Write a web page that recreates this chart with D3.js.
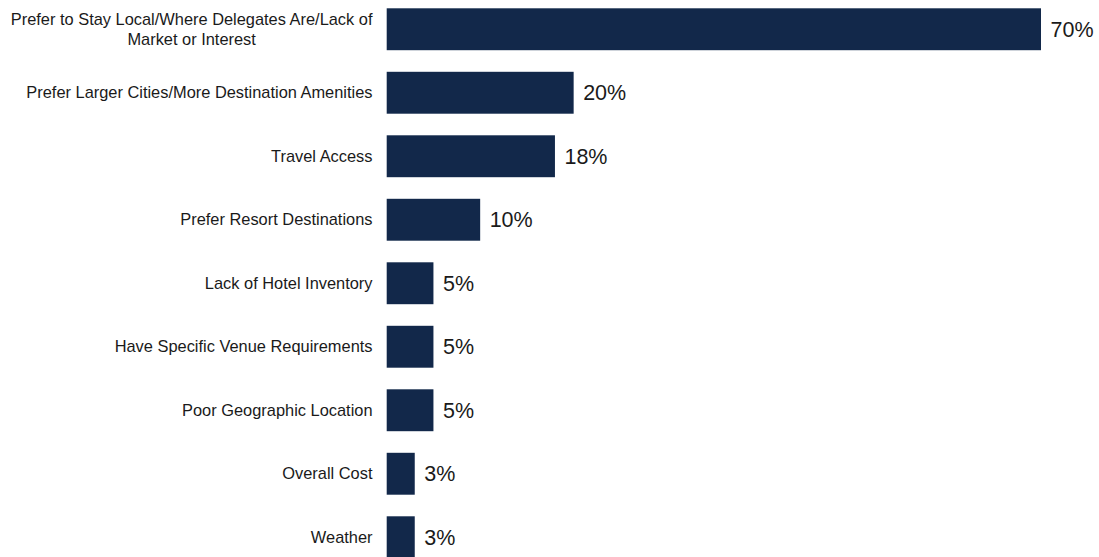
<!DOCTYPE html>
<html>
<head>
<meta charset="utf-8">
<script src="https://cdn.jsdelivr.net/npm/d3@7/dist/d3.min.js"></script>
<style>
  html, body { margin: 0; padding: 0; background: #ffffff; }
  svg { display: block; }
  text { font-family: "Liberation Sans", Arial, Helvetica, sans-serif; fill: #1a1a1a; }
</style>
</head>
<body>
<svg id="chart" width="1099" height="557"></svg>
<script>
// Reasons given for not choosing a destination (share of respondents)
const categories = [
  "Prefer to Stay Local/Where Delegates Are/Lack of|Market or Interest",
  "Prefer Larger Cities/More Destination Amenities",
  "Travel Access",
  "Prefer Resort Destinations",
  "Lack of Hotel Inventory",
  "Have Specific Venue Requirements",
  "Poor Geographic Location",
  "Overall Cost",
  "Weather"
];
const values = [70, 20, 18, 10, 5, 5, 5, 3, 3];
const valueLabels = ["70%", "20%", "18%", "10%", "5%", "5%", "5%", "3%", "3%"];

const svg = d3.select("#chart");

const barLeft = 386.7;
const x = d3.scaleLinear().domain([0, 70]).range([barLeft, 1041]);
const y = d3.scaleBand()
  .domain(categories)
  .range([-2.5, 569])
  .paddingInner(0.34)
  .paddingOuter(0.17);

const barColor = "#12284a";

// bars
svg.append("g")
  .selectAll("rect")
  .data(categories)
  .join("rect")
  .attr("x", x(0))
  .attr("y", d => y(d))
  .attr("width", (d, i) => x(values[i]) - x(0))
  .attr("height", y.bandwidth())
  .attr("fill", barColor);

// value labels
svg.append("g")
  .selectAll("text")
  .data(categories)
  .join("text")
  .attr("x", (d, i) => x(values[i]) + 9.5)
  .attr("y", d => y(d) + y.bandwidth() / 2)
  .attr("dy", "0.36em")
  .style("font-size", "21.5px")
  .text((d, i) => valueLabels[i]);

// category labels (multi-line labels are centred within a right-aligned block)
const labelRight = 372.5;
const lineHeight = 20;
const catG = svg.append("g");
categories.forEach(cat => {
  const lines = cat.split("|");
  const cy = y(cat) + y.bandwidth() / 2;
  const t = catG.append("text")
    .style("font-size", "16.4px")
    .attr("text-anchor", "end");
  if (lines.length === 1) {
    t.attr("x", labelRight).attr("y", cy).attr("dy", "0.35em").text(cat);
    return;
  }
  const spans = lines.map((ln, k) => t.append("tspan")
    .attr("x", labelRight)
    .attr("y", cy + (k - (lines.length - 1) / 2) * lineHeight)
    .attr("dy", "0.35em")
    .text(ln));
  const widths = spans.map(s => s.node().getComputedTextLength());
  const maxW = d3.max(widths);
  t.attr("text-anchor", "middle");
  spans.forEach(s => s.attr("x", labelRight - maxW / 2));
});
</script>
</body>
</html>
